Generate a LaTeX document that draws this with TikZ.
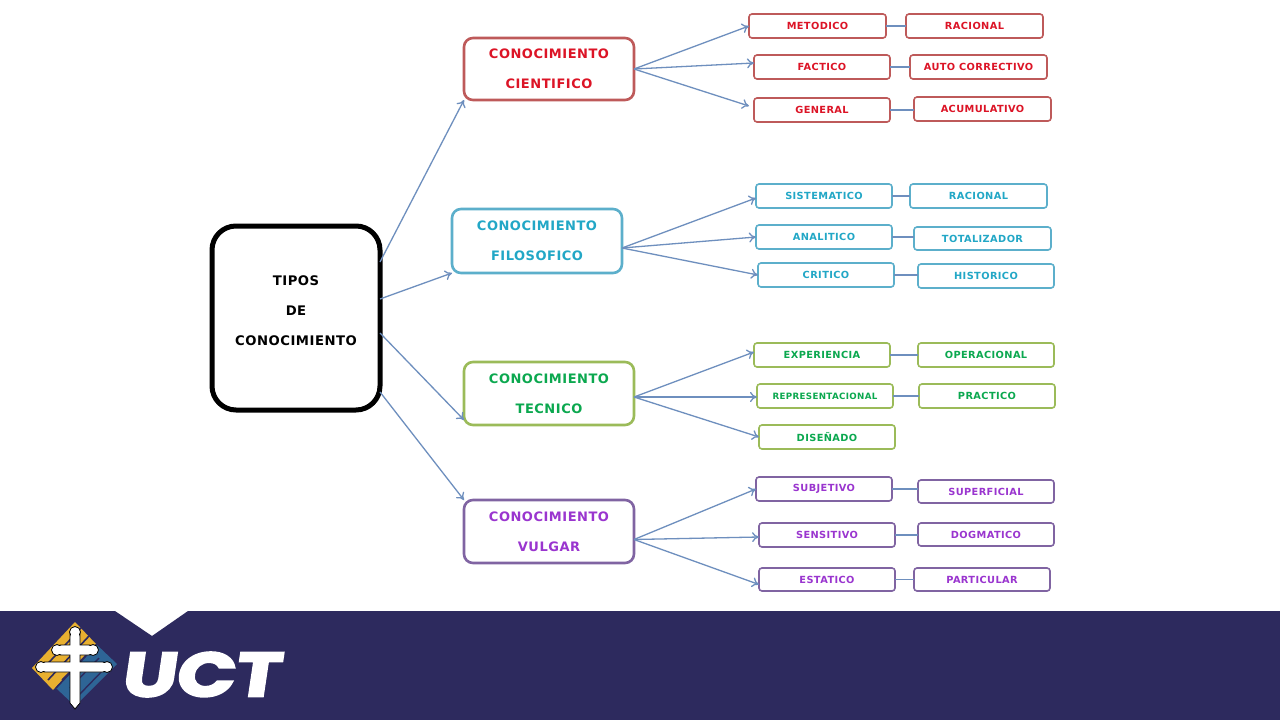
\documentclass[tikz,border=0pt]{standalone}
\usepackage{fontspec}
\setmainfont[LetterSpace=4]{DejaVu Sans}
\newfontfamily\uctfont[FakeBold=3.5,FakeSlant=0.12]{Poppins Bold}
\usetikzlibrary{arrows.meta}
\definecolor{arrowc}{HTML}{6E8FBE}
\definecolor{redl}{HTML}{BE5A5A}\definecolor{redt}{HTML}{DC1426}
\definecolor{bluel}{HTML}{5CAFCB}\definecolor{bluet}{HTML}{22A7C6}
\definecolor{greenl}{HTML}{9BBB59}\definecolor{greent}{HTML}{0BA84F}
\definecolor{purl}{HTML}{8064A2}\definecolor{purt}{HTML}{9A35CF}
\definecolor{navy}{HTML}{2D2A5E}\definecolor{gold}{HTML}{E8B030}\definecolor{steel}{HTML}{2E6596}
\tikzset{
 boxbase/.style={draw,rounded corners=3pt,line width=1.6pt,fill=white,inner sep=0pt,outer sep=0pt,font=\bfseries\fontsize{9.8}{11}\selectfont,align=center},
 redbox/.style={boxbase,draw=redl,text=redt},
 bluebox/.style={boxbase,draw=bluel,text=bluet},
 greenbox/.style={boxbase,draw=greenl,text=greent},
 purbox/.style={boxbase,draw=purl,text=purt},
 bigbox/.style={line width=2.6pt,rounded corners=9pt,font=\bfseries\fontsize{13}{30}\selectfont},
 rootbox/.style={boxbase,draw=black,text=black,line width=5pt,rounded corners=24pt,font=\bfseries\fontsize{13.2}{30}\selectfont,text depth=14pt},
 conn/.style={draw=arrowc,line width=1.3pt},
 arrow/.style={conn,-{To[length=7pt,width=10pt]}},
 smalltext/.style={font=\bfseries\fontsize{8.7}{9}\selectfont},
 crossline/.style={draw=black,fill=white,line width=0.8pt}
}
\newcommand{\bx}[7]{\node[#6,minimum width={(#3-#2)*1pt},minimum height={(#5-#4)*1pt}] (#1) at ({(#2+#3)/2},{(#4+#5)/2}) {#7};}
\begin{document}
\begin{tikzpicture}[x=1pt,y=-1pt]
\useasboundingbox (0,0) rectangle (1280,720);
\fill[white] (0,0) rectangle (1280,720);
% banner
\fill[navy] (0,611) -- (115,611) -- (152,636) -- (188,611) -- (1280,611) -- (1280,720) -- (0,720) -- cycle;
% logo
\begin{scope}
\fill[gold] (75,622) -- (32,668) -- (53,690) -- (96,644) -- cycle;
\fill[steel] (96,644) -- (117,664) -- (75,706) -- (56,688) -- cycle;
\foreach \d in {0,8,16}{
 \draw[navy,line width=1.6pt] (81+\d,628+\d) -- (40+\d,672+\d);
 \draw[navy,line width=1.4pt] (91+\d,650+\d) -- (62+\d,680+\d);
}
\end{scope}
\filldraw[crossline] (70,632) -- (80,632) -- (80,645) -- (90,645) -- (90,655) -- (80,655) -- (80,662) -- (104,662) -- (104,672) -- (80,672) -- (80,703) -- (75,709) -- (70,703) -- (70,672) -- (44,672) -- (44,662) -- (70,662) -- (70,655) -- (60,655) -- (60,645) -- (70,645) -- cycle;
\foreach \p/\q in {75/632,57/650,93/650,41/667,107/667}
 \filldraw[crossline] (\p,\q) circle (5.5pt);
\fill[white] (71,632) rectangle (79,704);
\fill[white] (57,646) rectangle (93,654);
\fill[white] (41,663) rectangle (107,671);
\node[text=white,inner sep=0pt,anchor=center,xscale=1.24,transform shape,font=\uctfont\fontsize{62}{62}\selectfont] (uct) at (199.5,674.5) {UCT};
% nodes
\bx{root}{212}{380}{226}{410}{rootbox}{TIPOS\\DE\\CONOCIMIENTO}
\bx{sci}{464}{634}{38}{100}{redbox,bigbox}{CONOCIMIENTO\\CIENTIFICO}
\bx{fil}{452}{622}{209}{273}{bluebox,bigbox}{CONOCIMIENTO\\FILOSOFICO}
\bx{tec}{464}{634}{362}{425}{greenbox,bigbox}{CONOCIMIENTO\\TECNICO}
\bx{vul}{464}{634}{500}{563}{purbox,bigbox}{CONOCIMIENTO\\VULGAR}
\bx{met}{749}{886}{14}{38}{redbox}{METODICO}
\bx{rac}{906}{1043}{14}{38}{redbox}{RACIONAL}
\bx{fac}{754}{890}{55}{79}{redbox}{FACTICO}
\bx{aut}{910}{1047}{55}{79}{redbox}{AUTO CORRECTIVO}
\bx{gen}{754}{890}{98}{122}{redbox}{GENERAL}
\bx{acu}{914}{1051}{97}{121}{redbox}{ACUMULATIVO}
\bx{sis}{756}{892}{184}{208}{bluebox}{SISTEMATICO}
\bx{rab}{910}{1047}{184}{208}{bluebox}{RACIONAL}
\bx{ana}{756}{892}{225}{249}{bluebox}{ANALITICO}
\bx{tot}{914}{1051}{227}{250}{bluebox}{TOTALIZADOR}
\bx{cri}{758}{894}{263}{287}{bluebox}{CRITICO}
\bx{his}{918}{1054}{264}{288}{bluebox}{HISTORICO}
\bx{exp}{754}{890}{343}{367}{greenbox}{EXPERIENCIA}
\bx{ope}{918}{1054}{343}{367}{greenbox}{OPERACIONAL}
\bx{rep}{757}{893}{384}{408}{greenbox,smalltext}{REPRESENTACIONAL}
\bx{pra}{919}{1055}{384}{408}{greenbox}{PRACTICO}
\bx{dis}{759}{895}{425}{449}{greenbox}{DISEÑADO}
\bx{sub}{756}{892}{477}{501}{purbox}{SUBJETIVO}
\bx{sup}{918}{1054}{480}{503}{purbox}{SUPERFICIAL}
\bx{sen}{759}{895}{523}{547}{purbox}{SENSITIVO}
\bx{dog}{918}{1054}{523}{546}{purbox}{DOGMATICO}
\bx{est}{759}{895}{568}{591}{purbox}{ESTATICO}
\bx{par}{914}{1050}{568}{591}{purbox}{PARTICULAR}
% root arrows
\draw[arrow] ([yshift=56pt]root.east) -- (sci.south west);
\draw[arrow] ([yshift=19pt]root.east) -- (fil.south west);
\draw[arrow] ([yshift=-15pt]root.east) -- ([yshift=5pt]tec.south west);
\draw[arrow] ([yshift=-74pt]root.east) -- (vul.north west);
% branch arrows
\draw[arrow] (sci.east) -- (met.west);
\draw[arrow] (sci.east) -- ([yshift=4pt]fac.west);
\draw[arrow] (sci.east) -- ([xshift=-5pt,yshift=4pt]gen.west);
\draw[arrow] ([yshift=-7pt]fil.east) -- ([yshift=-2pt]sis.west);
\draw[arrow] ([yshift=-7pt]fil.east) -- (ana.west);
\draw[arrow] ([yshift=-7pt]fil.east) -- (cri.west);
\draw[arrow] ([yshift=-3.5pt]tec.east) -- ([yshift=3pt]exp.west);
\draw[arrow] ([yshift=-3.5pt]tec.east) -- ([yshift=-1pt]rep.west);
\draw[arrow] ([yshift=-3.5pt]tec.east) -- (dis.west);
\draw[arrow] ([yshift=-8pt]vul.east) -- (sub.west);
\draw[arrow] ([yshift=-8pt]vul.east) -- ([yshift=-2pt]sen.west);
\draw[arrow] ([yshift=-8pt]vul.east) -- ([yshift=-5pt]est.west);
% links
\foreach \a/\b in {met/rac,fac/aut,gen/acu,sis/rab,ana/tot,cri/his,exp/ope,rep/pra,sub/sup,sen/dog,est/par}
 \draw[conn] (\a.east) -- (\a.east -| \b.west);
\end{tikzpicture}
\end{document}
